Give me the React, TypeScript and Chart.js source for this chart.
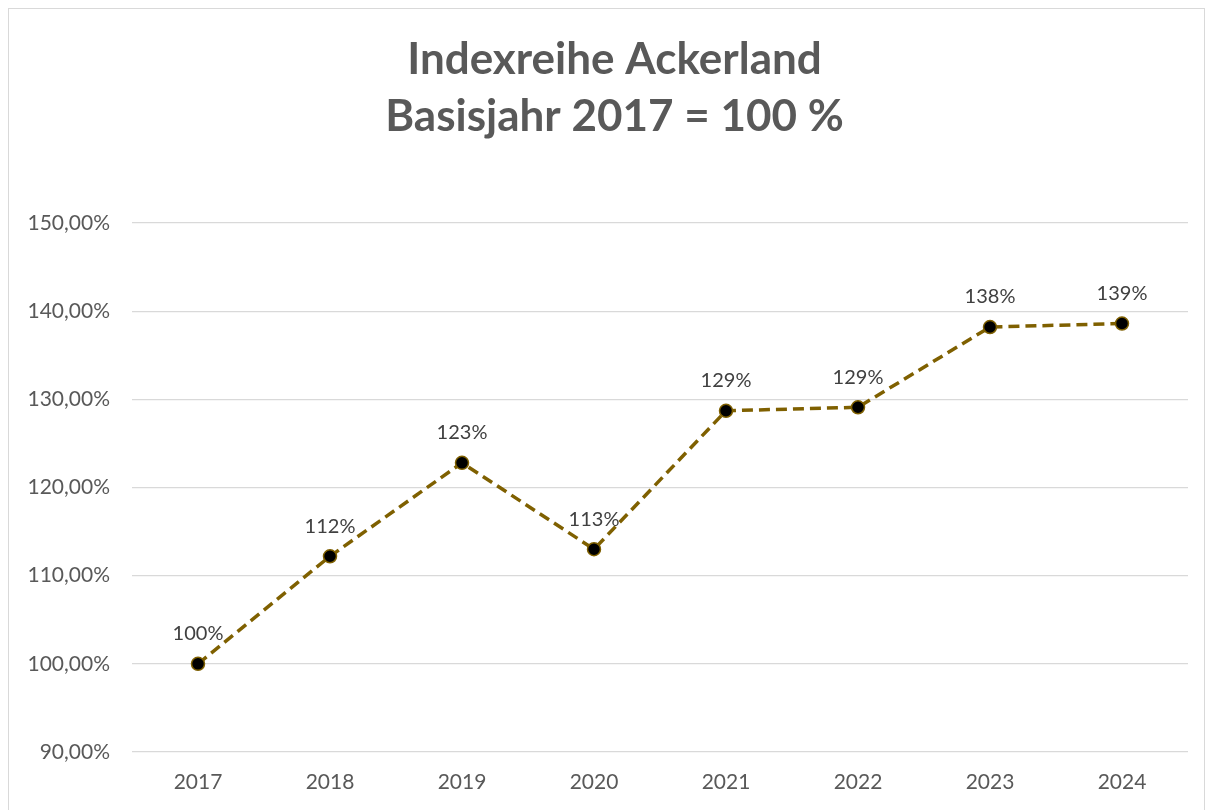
import React, { useEffect, useRef } from "react";
import { Chart, registerables } from "chart.js";

Chart.register(...registerables);

const titleLines = ["Indexreihe Ackerland", "Basisjahr 2017 = 100 %"];
const years = ["2017", "2018", "2019", "2020", "2021", "2022", "2023", "2024"];
const indexValues = [100.0, 112.2, 122.8, 113.0, 128.7, 129.1, 138.2, 138.6];
const yMin = 90;
const yMax = 150;
const yStep = 10;

const FONT = "Lato, 'Open Sans', sans-serif";

const dataLabelPlugin = {
  id: "dataLabelsInline",
  afterDatasetsDraw(chart: any) {
    const ctx = chart.ctx;
    const meta = chart.getDatasetMeta(0);
    ctx.save();
    ctx.font = `20px ${FONT}`;
    ctx.fillStyle = "#404040";
    ctx.textAlign = "center";
    ctx.textBaseline = "middle";
    meta.data.forEach((pt: any, i: number) => {
      const v = chart.data.datasets[0].data[i] as number;
      ctx.fillText(`${Math.round(v)}%`, pt.x, pt.y - 30);
    });
    ctx.restore();
  },
};

const titlePlugin = {
  id: "centeredTitle",
  afterDraw(chart: any) {
    const ctx = chart.ctx;
    ctx.save();
    ctx.font = `bold 44px ${FONT}`;
    ctx.fillStyle = "#595959";
    ctx.textAlign = "center";
    ctx.textBaseline = "middle";
    const cx = chart.width / 2 + 8;
    titleLines.forEach((line, i) => {
      ctx.fillText(line, cx, 51 + i * 57);
    });
    ctx.restore();
  },
};

export default function App() {
  const ref = useRef<HTMLCanvasElement | null>(null);
  useEffect(() => {
    if (!ref.current) return;
    const chart = new Chart(ref.current, {
      type: "line",
      data: {
        labels: years,
        datasets: [
          {
            data: indexValues,
            borderColor: "#7F6000",
            borderWidth: 3.5,
            borderDash: [11, 6],
            pointRadius: 6.5,
            pointBackgroundColor: "#000000",
            pointBorderColor: "#7F6000",
            pointBorderWidth: 1.5,
            tension: 0,
            fill: false,
          },
        ],
      },
      options: {
        animation: false,
        responsive: false,
        maintainAspectRatio: false,
        layout: { padding: { left: 0, right: 16, top: 214, bottom: 0 } },
        plugins: {
          legend: { display: false },
          tooltip: { enabled: false },
          title: { display: false },
        },
        scales: {
          x: {
            offset: true,
            grid: { display: false, drawTicks: false },
            border: { display: false },
            ticks: {
              color: "#595959",
              font: { family: FONT, size: 21 },
              padding: 18,
            },
            afterFit(scale: any) {
              scale.height = 58;
            },
          },
          y: {
            min: yMin,
            max: yMax,
            grid: { color: "#d9d9d9", lineWidth: 1.3, drawTicks: false },
            border: { display: false },
            ticks: {
              stepSize: yStep,
              color: "#595959",
              font: { family: FONT, size: 21 },
              padding: 22,
              callback: (v: any) => `${Number(v).toFixed(2).replace(".", ",")}%`,
            },
            afterFit(scale: any) {
              scale.width = 123;
            },
          },
        },
      },
      plugins: [dataLabelPlugin, titlePlugin],
    });
    return () => chart.destroy();
  }, []);

  return (
    <div
      style={{
        width: 1195,
        height: 801,
        borderTop: "1px solid #d9d9d9",
        borderLeft: "1px solid #d9d9d9",
        borderRight: "1px solid #d9d9d9",
        background: "#ffffff",
        overflow: "hidden",
      }}
    >
      <canvas ref={ref} width={1195} height={801} style={{ display: "block" }} />
    </div>
  );
}
